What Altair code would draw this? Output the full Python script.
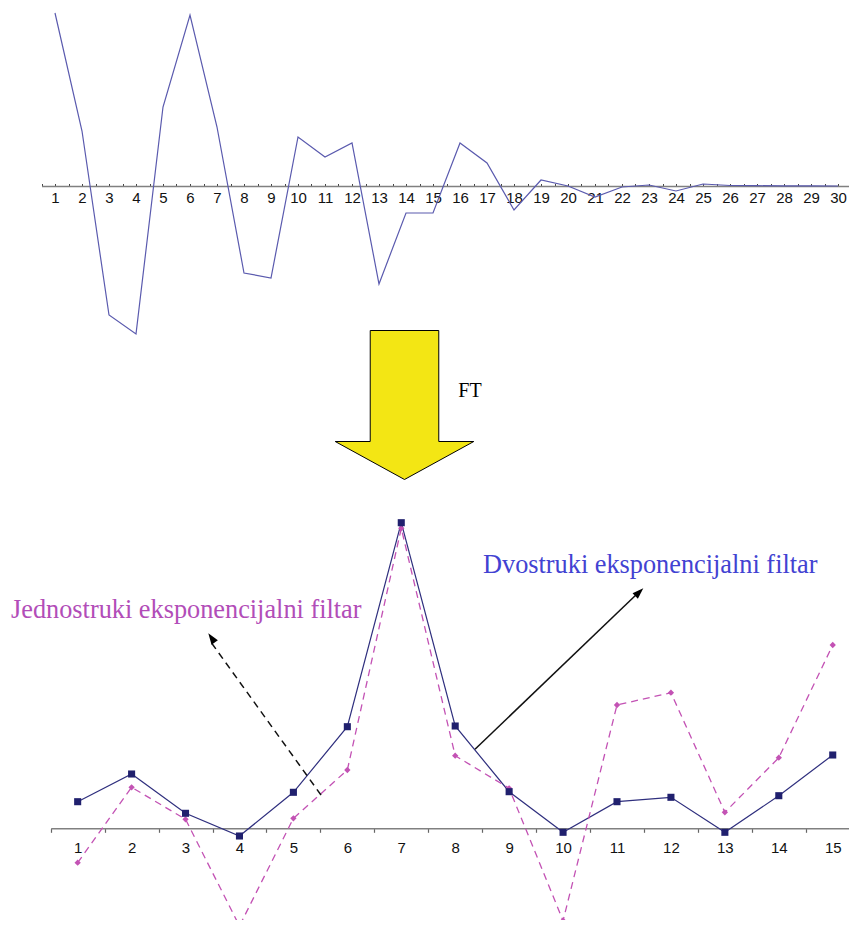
import altair as alt
import pandas as pd

# ---------------- data ----------------
top_index = list(range(1, 31))
top_signal = [17.3, 5.5, -12.9, -14.8, 7.9, 17.1, 5.9, -8.7, -9.2, 4.9,
              2.9, 4.3, -9.8, -2.7, -2.7, 4.3, 2.3, -2.4, 0.6, 0.0,
              -1.1, -0.1, 0.1, -0.5, 0.2, 0.05, 0.03, 0.02, 0.01, 0.0]
top_tick_labels = list(range(1, 31))
top_minor_ticks = [i / 2 for i in range(1, 62)]

bottom_index = list(range(1, 16))
double_filter = [2.66, 5.43, 1.5, -0.77, 3.6, 10.16, 30.56, 10.23, 3.66, -0.4,
                 2.66, 3.1, -0.4, 3.26, 7.33]
single_filter = [-3.44, 4.1, 0.9, -9.77, 1.0, 5.83, 30.0, 7.26, 4.0, -9.24,
                 12.33, 13.56, 1.6, 7.06, 18.33]
bottom_tick_labels = list(range(1, 16))
bottom_edge_ticks = [i + 0.5 for i in range(0, 16)]

label_single = "Jednostruki eksponencijalni filtar"
label_double = "Dvostruki eksponencijalni filtar"
label_ft = "FT"

# ---------------- layout / style ----------------
W, H = 841, 912
TOP_ZERO = 178
BOT_ZERO = 820.3

df_top = pd.DataFrame({"n": top_index, "v": top_signal})
df_double = pd.DataFrame({"n": bottom_index, "v": double_filter})
df_single = pd.DataFrame({"n": bottom_index, "v": single_filter})
one = pd.DataFrame({"k": [0]})

x_top = alt.Scale(domain=[0.5, 30.5], range=[33.5, 843.5], nice=False, zero=False)
y_top = alt.Scale(domain=[-17.8, 17.8], range=[356, 0], nice=False, zero=False)
x_bot = alt.Scale(domain=[0.5, 15.5], range=[42.7, 851.7], nice=False, zero=False)
y_bot = alt.Scale(domain=[-9.17, 82.03], range=[H, 0], nice=False, zero=False)

AXIS_GRAY = "#808080"
LABEL_FONT = "Liberation Sans"

top_label_axis = alt.Axis(orient="bottom", offset=TOP_ZERO - H, values=top_tick_labels,
                          ticks=False, tickSize=0, domain=False, grid=False,
                          labelPadding=4, labelFontSize=15, labelFont=LABEL_FONT,
                          labelColor="#111111", labelAngle=0, labelFlush=False,
                          labelOverlap=False, title=None)
top_tick_axis = alt.Axis(orient="top", offset=-TOP_ZERO, values=top_minor_ticks,
                         labels=False, ticks=True, tickSize=2.5, tickColor="#444444",
                         tickWidth=1, domain=True, domainColor=AXIS_GRAY, domainWidth=1.5,
                         grid=False, title=None)
bot_label_axis = alt.Axis(orient="bottom", offset=BOT_ZERO - H, values=bottom_tick_labels,
                          ticks=False, tickSize=0, domain=False, grid=False,
                          labelPadding=12, labelFontSize=15, labelFont=LABEL_FONT,
                          labelColor="#111111", labelAngle=0, labelFlush=False,
                          labelOverlap=False, title=None)
bot_tick_axis = alt.Axis(orient="bottom", offset=BOT_ZERO - H, values=bottom_edge_ticks,
                         labels=False, ticks=True, tickSize=4, tickColor="#666666",
                         tickWidth=1.2, domain=True, domainColor=AXIS_GRAY, domainWidth=1.5,
                         grid=False, title=None)

BLUE_LINE = "#2f2f7e"
BLUE_PT = "#20206e"
MAGENTA = "#c352b4"

# ---------------- top chart ----------------
top_axis_layer = alt.Chart(df_top).mark_line(opacity=0).encode(
    x=alt.X("n:Q", scale=x_top, axis=top_tick_axis),
    y=alt.Y("v:Q", scale=y_top, axis=None))
top_line = alt.Chart(df_top).mark_line(color="#5a5aae", strokeWidth=1.2).encode(
    x=alt.X("n:Q", scale=x_top, axis=top_label_axis),
    y=alt.Y("v:Q", scale=y_top, axis=None))

# ---------------- FT arrow ----------------
arrow_path = "M-0.46,-1 L0.46,-1 L0.46,0.49 L0.93,0.49 L0,1 L-0.93,0.49 L-0.46,0.49 Z"
ft_arrow = alt.Chart(one).mark_point(
    shape=arrow_path, size=22201, filled=True, fill="#f3e614", color="#f3e614",
    stroke="#000000", strokeWidth=1, opacity=1, fillOpacity=1, strokeOpacity=1
).encode(x=alt.value(396.5), y=alt.value(397))
ft_text = alt.Chart(one).mark_text(
    text=label_ft, font="Liberation Serif", fontSize=20, color="#000000",
    align="left", baseline="alphabetic"
).encode(x=alt.value(450.3), y=alt.value(388.7))

# ---------------- bottom chart ----------------
bot_axis_layer = alt.Chart(df_double).mark_line(opacity=0).encode(
    x=alt.X("n:Q", scale=x_bot, axis=bot_tick_axis),
    y=alt.Y("v:Q", scale=y_bot, axis=None))
double_line = alt.Chart(df_double).mark_line(color=BLUE_LINE, strokeWidth=1.2).encode(
    x=alt.X("n:Q", scale=x_bot, axis=bot_label_axis),
    y=alt.Y("v:Q", scale=y_bot, axis=None))
single_line = alt.Chart(df_single).mark_line(color=MAGENTA, strokeWidth=1.3,
                                              strokeDash=[7, 5]).encode(
    x=alt.X("n:Q", scale=x_bot, axis=None),
    y=alt.Y("v:Q", scale=y_bot, axis=None))
single_pts = alt.Chart(df_single).mark_point(shape="diamond", filled=True, size=40,
                                             color=MAGENTA, opacity=1).encode(
    x=alt.X("n:Q", scale=x_bot, axis=None),
    y=alt.Y("v:Q", scale=y_bot, axis=None))
double_pts = alt.Chart(df_double).mark_point(shape="square", filled=True, size=50,
                                             color=BLUE_PT, opacity=1).encode(
    x=alt.X("n:Q", scale=x_bot, axis=None),
    y=alt.Y("v:Q", scale=y_bot, axis=None))

# ---------------- annotations ----------------
head_path = "M0,0 L0.55,1.6 L-0.55,1.6 Z"
single_arrow = alt.Chart(one).mark_rule(color="#111111", strokeWidth=1.5,
                                        strokeDash=[7, 5]).encode(
    x=alt.value(313), y=alt.value(787), x2=alt.value(202.5), y2=alt.value(633.5))
single_head = alt.Chart(one).mark_point(shape=head_path, size=196, filled=True,
                                        color="#000000", opacity=1, angle=325.1).encode(
    x=alt.value(200.3), y=alt.value(625.3))
double_arrow = alt.Chart(one).mark_rule(color="#111111", strokeWidth=1.5).encode(
    x=alt.value(467), y=alt.value(741.3), x2=alt.value(630), y2=alt.value(585))
double_head = alt.Chart(one).mark_point(shape=head_path, size=196, filled=True,
                                        color="#000000", opacity=1, angle=46.3).encode(
    x=alt.value(635.3), y=alt.value(580.3))
single_text = alt.Chart(one).mark_text(
    text=label_single, font="Liberation Serif", fontSize=26.3, color="#b24db8",
    align="left", baseline="alphabetic"
).encode(x=alt.value(3), y=alt.value(610.3))
double_text = alt.Chart(one).mark_text(
    text=label_double, font="Liberation Serif", fontSize=26.3, color="#4242d2",
    align="left", baseline="alphabetic"
).encode(x=alt.value(475), y=alt.value(564.7))

chart = alt.layer(
    top_axis_layer, top_line,
    ft_arrow, ft_text,
    bot_axis_layer, double_line, single_line, single_pts, double_pts,
    single_arrow, single_head, double_arrow, double_head,
    single_text, double_text,
).resolve_scale(x="independent", y="independent").resolve_axis(
    x="independent", y="independent"
).properties(
    width=W, height=H, padding=0,
    autosize=alt.AutoSizeParams(type="none"),
).configure_view(stroke=None)

chart.save("out.html", embed_options={"renderer": "svg", "actions": False})
